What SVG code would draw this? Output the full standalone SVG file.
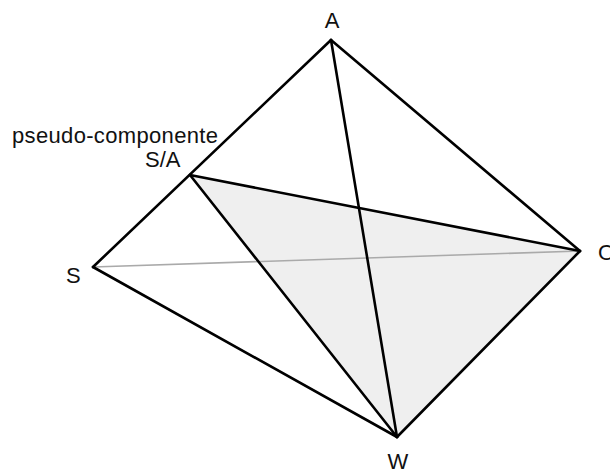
<svg xmlns="http://www.w3.org/2000/svg" width="610" height="471" viewBox="0 0 610 471">
<style>
.e{stroke:#000;stroke-width:2.6;fill:none;stroke-linecap:round;stroke-linejoin:round}
.t{font-family:"Liberation Sans",Arial,sans-serif;font-size:22px;fill:#111}
</style>
<rect width="610" height="471" fill="#fff"/>
<polygon id="face" points="190,175 397,437 580,251" fill="#efefef"/>
<g id="connectors">
<line x1="93" y1="267" x2="580" y2="251" stroke="#aaa" stroke-width="1.6"/>
<line class="e" x1="331" y1="40" x2="93" y2="267"/>
<line class="e" x1="331" y1="40" x2="580" y2="251"/>
<line class="e" x1="331" y1="40" x2="397" y2="437"/>
<line class="e" x1="93" y1="267" x2="397" y2="437"/>
<line class="e" x1="397" y1="437" x2="580" y2="251"/>
<line class="e" x1="190" y1="175" x2="397" y2="437"/>
<line class="e" x1="190" y1="175" x2="580" y2="251"/>
</g>
<g id="A"><text class="t" x="332" y="28" text-anchor="middle">A</text></g>
<g id="SA"><text class="t" x="12" y="143" textLength="206">pseudo-componente</text><text class="t" x="145" y="167">S/A</text></g>
<g id="S"><text class="t" x="66" y="283">S</text></g>
<g id="O"><text class="t" x="598" y="260">O</text></g>
<g id="W"><text class="t" x="398" y="469" text-anchor="middle">W</text></g>
</svg>
